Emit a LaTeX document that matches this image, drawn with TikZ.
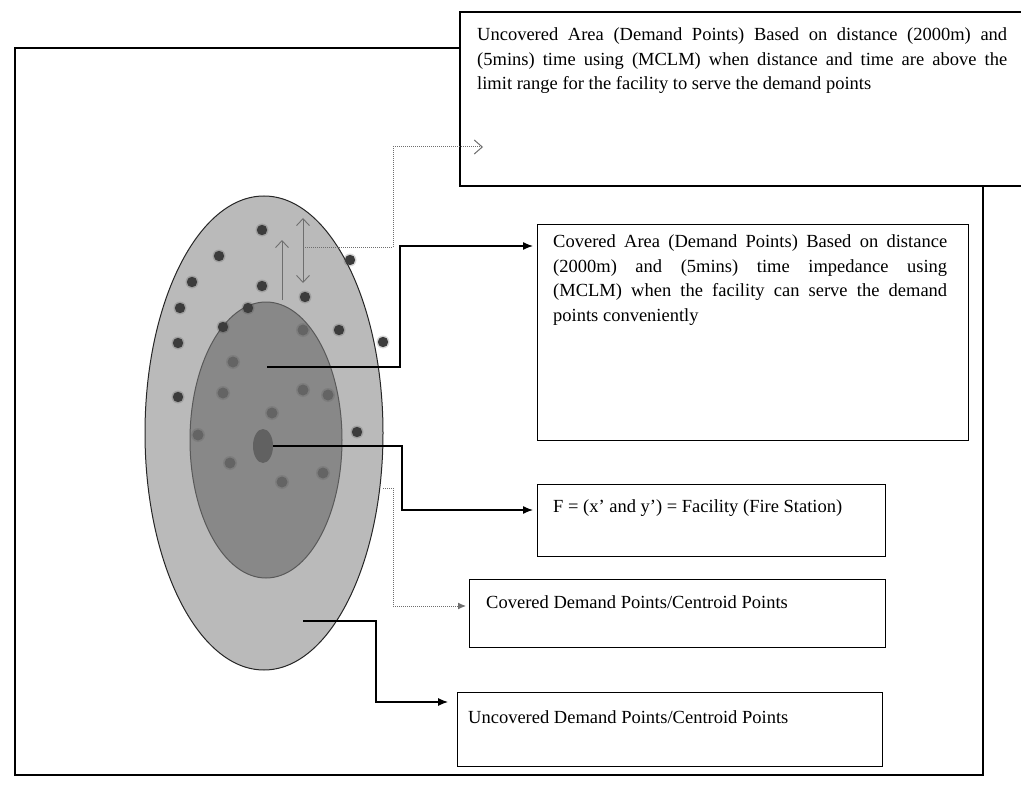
\documentclass[tikz,border=0pt]{standalone}
\usepackage{fontspec}
\setmainfont{Liberation Serif}
\usetikzlibrary{arrows.meta,calc,shapes.geometric}
\definecolor{outerfill}{RGB}{186,186,186}
\definecolor{innerfill}{RGB}{136,136,136}
\definecolor{darkdot}{RGB}{60,60,60}
\definecolor{softdot}{RGB}{100,100,100}
\definecolor{linegray}{RGB}{110,110,110}
\begin{document}
\begin{tikzpicture}[x=1pt,y=-1pt,
  frameline/.style={line width=2.8pt, line join=miter, line cap=rect},
  box/.style={draw=black, line width=1.2pt, fill=white, inner sep=0pt, anchor=north west},
  txt/.style={inner sep=0pt, font=\fontsize{18.5}{24.5}\selectfont},
  conn/.style={draw=black, line width=1.3pt, -{Latex[length=10pt,width=8pt]}},
  gconn/.style={draw=linegray, line width=1pt, densely dotted},
  barb/.style={draw=linegray, line width=0.9pt},
  ddot/.style={fill=darkdot},
  sdot/.style={fill=softdot}]
\useasboundingbox (0,0) rectangle (1021,789);

% outer frame
\draw[frameline] (459,48) -- (15,48) -- (15,775) -- (983,775) -- (983,186);

% text boxes
\node[box, line width=1.8pt, minimum width=580pt, minimum height=174pt] (topbox) at (459,11) {};
\node[box, minimum width=431pt, minimum height=216pt] (covbox) at (537,224) {};
\node[box, minimum width=348pt, minimum height=72pt] (fbox) at (537,484) {};
\node[box, minimum width=416pt, minimum height=68pt] (cdpbox) at (469,579) {};
\node[box, minimum width=425pt, minimum height=74pt] (udpbox) at (457,692) {};

\node[txt, anchor=north west, text width=530pt, align=justify] (toptxt) at (477,23.2)
  {\strut Uncovered Area (Demand Points) Based on distance (2000m) and\linebreak
   (5mins) time using (MCLM) when distance and time are above the\linebreak
   limit range for the facility to serve the demand points};
\node[txt, anchor=north west, text width=394pt, align=justify] (covtxt) at (553,230.2)
  {\strut Covered Area (Demand Points) Based on distance\linebreak
   (2000m) and (5mins) time impedance using\linebreak
   (MCLM) when the facility can serve the demand\linebreak
   points conveniently};
\node[txt, anchor=base west] (ftxt) at (553,512) {F = (x’ and y’) = Facility (Fire Station)};
\node[txt, anchor=base west] (cdptxt) at (486,608) {Covered Demand Points/Centroid Points};
\node[txt, anchor=base west] (udptxt) at (468,723) {Uncovered Demand Points/Centroid Points};

% ellipses
\node[ellipse, draw=black!85, line width=1pt, fill=outerfill, inner sep=0pt,
      minimum width=238pt, minimum height=474pt] (outerell) at (264,433) {};
\node[ellipse, draw=black!65, line width=1pt, fill=innerfill, inner sep=0pt,
      minimum width=152pt, minimum height=276pt] (innerell) at (266,440) {};

% demand points (uncovered ring)
\foreach \p in {(262,230),(219,256),(192,282),(262,286),(180,308),(305,297),
                (350,260),(248,308),(223,327),(339,330),(178,343),(383,342),
                (178,397),(357,432)}
  {\fill[darkdot, opacity=0.2] \p circle (6.5pt); \fill[ddot] \p circle (5.2pt);}
% demand points (covered)
\foreach \p in {(303,330),(233,362),(223,393),(303,390),(328,395),(272,413),
                (198,435),(230,463),(282,482),(323,473)}
  {\fill[softdot, opacity=0.3] \p circle (7pt); \fill[sdot] \p circle (5.5pt);}

% facility
\node[ellipse, fill=black!62, inner sep=0pt, minimum width=20pt, minimum height=34pt] (fac) at (263,446) {};

% distance arrows
\coordinate (dblA) at (303,218);
\coordinate (dblB) at (303,283);
\coordinate (sglA) at (282,300);
\coordinate (sglB) at (282,240);
\draw[barb, {Straight Barb[length=7pt,width=13pt]}-{Straight Barb[length=7pt,width=13pt]}] (dblA) -- (dblB);
\draw[barb, -{Straight Barb[length=7pt,width=13pt]}] (sglA) -- (sglB);

% connectors
\coordinate (ringpt) at (303,247);
\coordinate (toptip) at ($(topbox.north west)+(24,136)$);
\draw[gconn, -{Straight Barb[length=8pt,width=14pt]}] (ringpt) -| (393,147) -- (toptip);

\coordinate (covpt) at (267,367);
\draw[conn, shorten >=4pt] (covpt) -- (400,367) |- (covbox.west |- 0,246);

\draw[conn, shorten >=4pt] (fac.east) -- (402,446) |- (fbox.west |- 0,510);

\coordinate (cdppt) at (383,488);
\draw[gconn, shorten >=3pt, -{Latex[length=8pt,width=7pt]}] (cdppt) -- (393,488) |- (cdpbox.west |- 0,606);

\coordinate (udppt) at (303,621);
\draw[conn, line width=1.1pt, shorten >=9pt] (udppt) -- (376,621) |- (udpbox.west |- 0,702);
\end{tikzpicture}
\end{document}
